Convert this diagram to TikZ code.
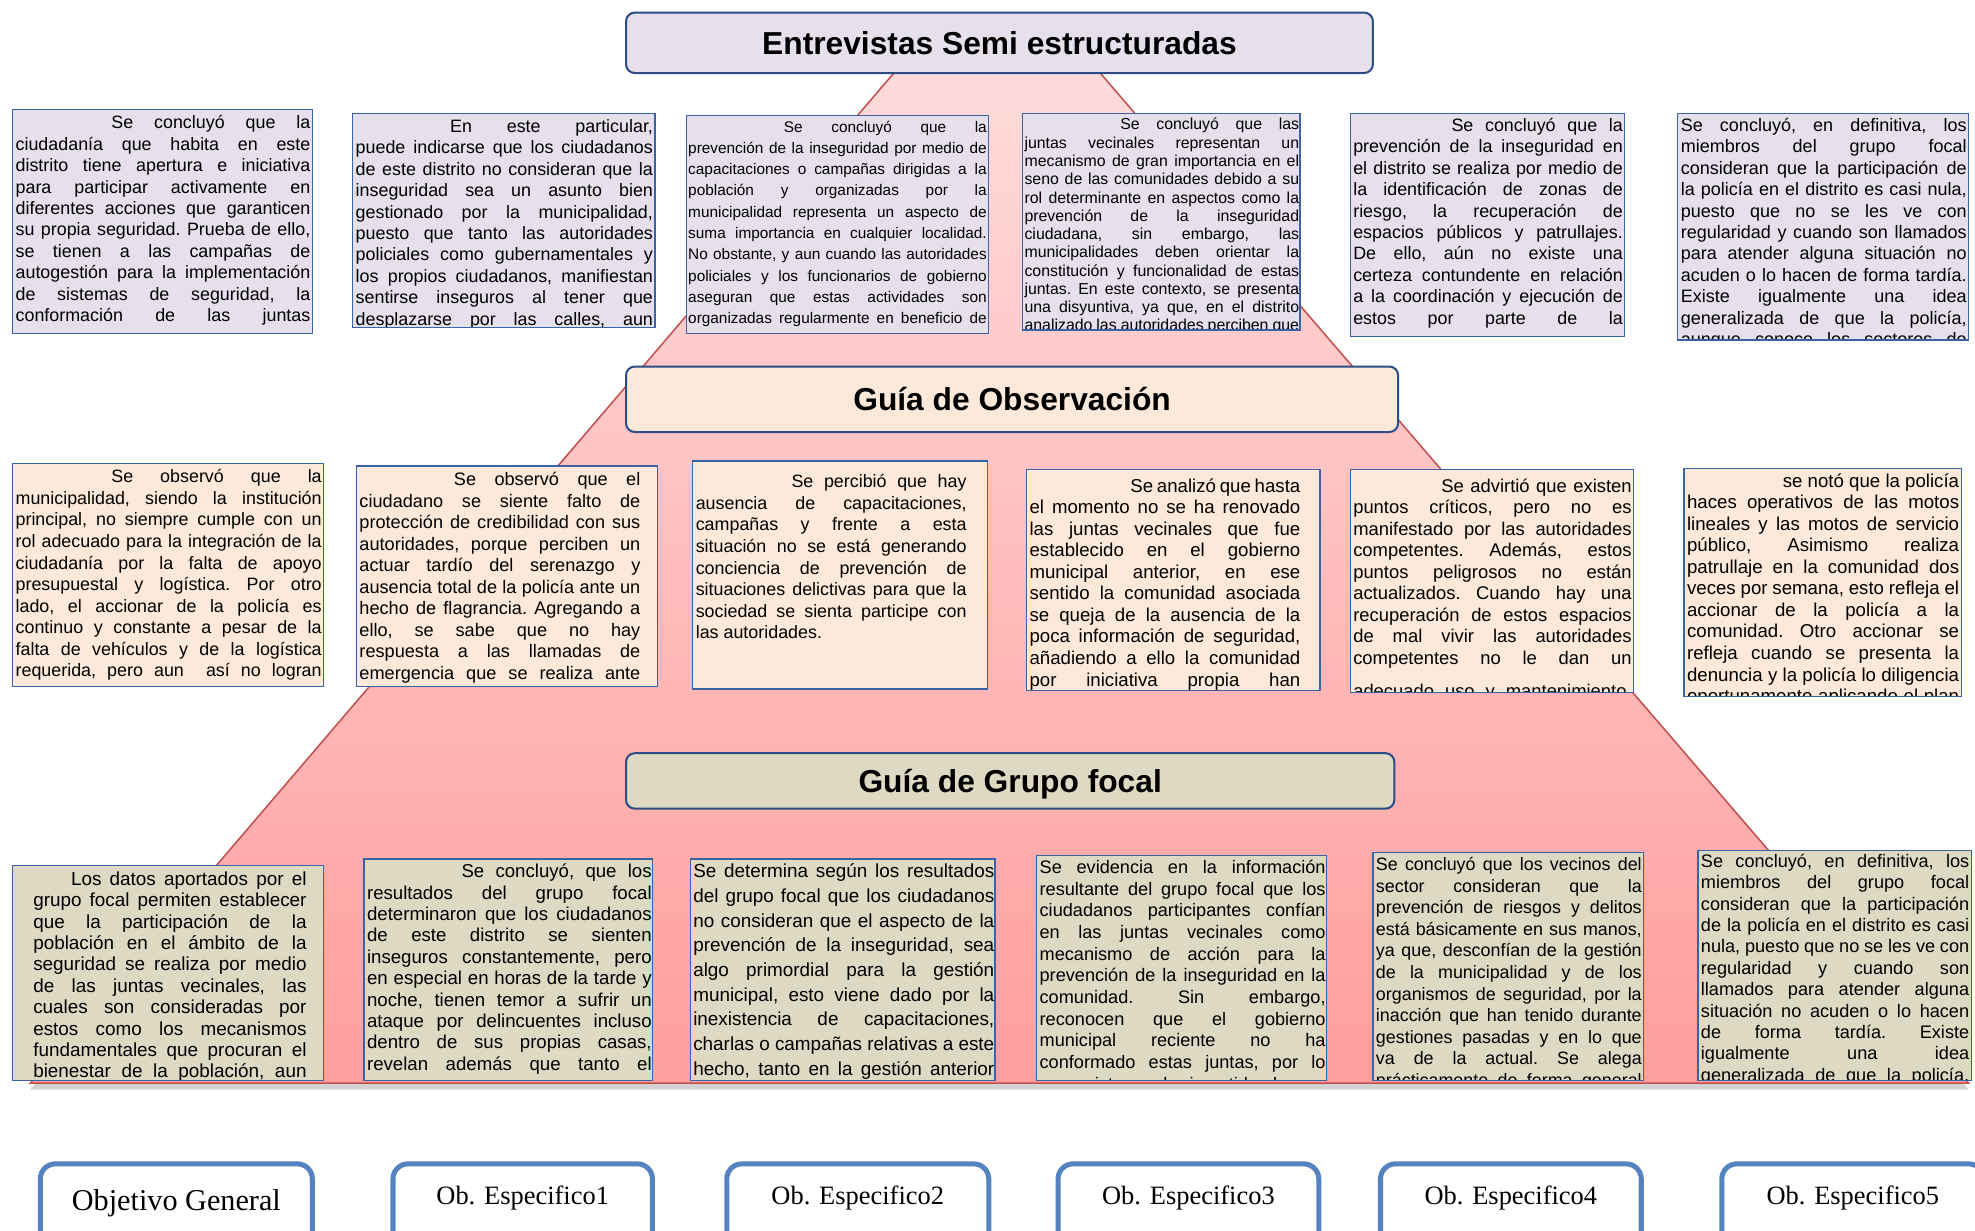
\documentclass[tikz,border=0pt]{standalone}
\usepackage{fontspec}
\setmainfont{Liberation Sans}
\newfontfamily\serifbox{Liberation Serif}
\usetikzlibrary{shadows}

\definecolor{entfill}{HTML}{E5E0EC}
\definecolor{obsfill}{HTML}{FDE9D9}
\definecolor{grufill}{HTML}{DDD9C3}
\definecolor{boxblue}{HTML}{3A62A7}
\definecolor{headblue}{HTML}{2B4C84}
\definecolor{objblue}{HTML}{5483C0}
\definecolor{pyrline}{HTML}{C0504D}
\definecolor{pyrtop}{HTML}{FFDCDC}
\definecolor{pyrbot}{HTML}{FF9E9E}

% caja de texto recortada: nombre, relleno, esquina, esquina, origen del texto, opciones, texto
\newcommand\nota[7]{%
  \fill[#2] #3 rectangle #4;
  \begin{scope}
    \clip #3 rectangle #4;
    \node[txt, #6] (#1) at #5 {\frenchspacing\tolerance=10000\hbadness=10000\hyphenpenalty=10000\parfillskip=0pt\relax #7\par};
  \end{scope}
  \draw[thinline] #3 rectangle #4;
}

\begin{document}
\begin{tikzpicture}[x=0.5pt, y=-0.5pt,
  txt/.style={anchor=north west, inner sep=0pt, align=justify},
  sz/.style 2 args={font=\fontsize{#1}{#2}\selectfont},
  thinline/.style={draw=boxblue, line width=0.5pt},
  head/.style={draw=headblue, line width=0.8pt, rounded corners=3.5pt,
    font=\bfseries\fontsize{12.6}{14}\selectfont, text height=9pt, text depth=0pt},
  objbox/.style={draw=objblue, line width=2pt, rounded corners=6pt, fill=white,
    inner sep=0pt, anchor=north}]

\fill[white] (0,0) rectangle (1568,977);
\useasboundingbox (0,0) rectangle (1568,977);

% piramide
\shade[top color=pyrtop, bottom color=pyrbot, draw=pyrline, line width=0.6pt,
  drop shadow={shadow xshift=0pt, shadow yshift=-2.5pt, opacity=0.35}]
  (24,860) -- (725,40) -- (858,40) -- (1563,860) -- cycle;

% titulos
\node[head, fill=entfill, minimum width=296.5pt, minimum height=24pt] (ent) at (793.5,34) {Entrevistas Semi estructuradas};
\node[head, fill=obsfill, minimum width=306.5pt, minimum height=26pt] (obs) at (803.5,317) {Guía de Observación};
\node[head, fill=grufill, minimum width=305pt, minimum height=22pt] (gru) at (802,620) {Guía de Grupo focal};

% entrevistas
\nota{e1}{entfill}{(10,87)}{(248,265)}{(12,91.5)}{text width=117pt, sz={7.1}{8.5}}{\hspace*{38pt}Se concluyó que la\linebreak ciudadanía que habita en este\linebreak distrito tiene apertura e iniciativa\linebreak para participar activamente en\linebreak diferentes acciones que garanticen\linebreak su propia seguridad. Prueba de ello,\linebreak se tienen a las campañas de\linebreak autogestión para la implementación\linebreak de sistemas de seguridad, la\linebreak conformación de las juntas}
\nota{e2}{entfill}{(280,90)}{(520,260)}{(282,94.5)}{text width=118pt, sz={7.1}{8.5}}{\hspace*{37.5pt}En este particular,\linebreak puede indicarse que los ciudadanos\linebreak de este distrito no consideran que la\linebreak inseguridad sea un asunto bien\linebreak gestionado por la municipalidad,\linebreak puesto que tanto las autoridades\linebreak policiales como gubernamentales y\linebreak los propios ciudadanos, manifiestan\linebreak sentirse inseguros al tener que\linebreak desplazarse por las calles, aun}
\nota{e3}{entfill}{(545,92)}{(785,265)}{(546,95.5)}{text width=118.5pt, sz={6.1}{8.45}}{\hspace*{38pt}Se concluyó que la\linebreak prevención de la inseguridad por medio de\linebreak capacitaciones o campañas dirigidas a la\linebreak población y organizadas por la\linebreak municipalidad representa un aspecto de\linebreak suma importancia en cualquier localidad.\linebreak No obstante, y aun cuando las autoridades\linebreak policiales y los funcionarios de gobierno\linebreak aseguran que estas actividades son\linebreak organizadas regularmente en beneficio de}
\nota{e4}{entfill}{(812,90)}{(1032,262)}{(813,93.5)}{text width=109pt, sz={6.3}{7.25}}{\hspace*{38pt}Se concluyó que las\linebreak juntas vecinales representan un\linebreak mecanismo de gran importancia en el\linebreak seno de las comunidades debido a su\linebreak rol determinante en aspectos como la\linebreak prevención de la inseguridad\linebreak ciudadana, sin embargo, las\linebreak municipalidades deben orientar la\linebreak constitución y funcionalidad de estas\linebreak juntas. En este contexto, se presenta\linebreak una disyuntiva, ya que, en el distrito\linebreak analizado las autoridades perciben que}
\nota{e5}{entfill}{(1072,90)}{(1290,267)}{(1074,93.5)}{text width=107pt, sz={7.1}{8.5}}{\hspace*{39pt}Se concluyó que la\linebreak prevención de la inseguridad en\linebreak el distrito se realiza por medio de\linebreak la identificación de zonas de\linebreak riesgo, la recuperación de\linebreak espacios públicos y patrullajes.\linebreak De ello, aún no existe una\linebreak certeza contundente en relación\linebreak a la coordinación y ejecución de\linebreak estos por parte de la}
\nota{e6}{entfill}{(1332,90)}{(1563,270)}{(1334,93.5)}{text width=113.5pt, sz={7.15}{8.5}}{Se concluyó, en definitiva, los\linebreak miembros del grupo focal\linebreak consideran que la participación de\linebreak la policía en el distrito es casi nula,\linebreak puesto que no se les ve con\linebreak regularidad y cuando son llamados\linebreak para atender alguna situación no\linebreak acuden o lo hacen de forma tardía.\linebreak Existe igualmente una idea\linebreak generalizada de que la policía,\linebreak aunque conoce los sectores de}

% observacion
\nota{o1}{obsfill}{(10,368)}{(257,545)}{(12,372.5)}{text width=121.5pt, sz={7.1}{8.55}}{\hspace*{38pt}Se observó que la\linebreak municipalidad, siendo la institución\linebreak principal, no siempre cumple con un\linebreak rol adecuado para la integración de la\linebreak ciudadanía por la falta de apoyo\linebreak presupuestal y logística. Por otro\linebreak lado, el accionar de la policía es\linebreak continuo y constante a pesar de la\linebreak falta de vehículos y de la logística\linebreak requerida, pero aun\ \ así no logran}
\nota{o2}{obsfill}{(283,370)}{(522,545)}{(285,374.5)}{text width=111.5pt, sz={7.2}{8.55}}{\hspace*{37.5pt}Se observó que el\linebreak ciudadano se siente falto de\linebreak protección de credibilidad con sus\linebreak autoridades, porque perciben un\linebreak actuar tardío del serenazgo y\linebreak ausencia total de la policía ante un\linebreak hecho de flagrancia. Agregando a\linebreak ello, se sabe que no hay\linebreak respuesta a las llamadas de\linebreak emergencia que se realiza ante}
\nota{o3}{obsfill}{(550,366)}{(784,547)}{(552,376.5)}{text width=107.5pt, sz={7.1}{8.55}}{\parfillskip=0pt plus 1fil\relax\hspace*{38pt}Se percibió que hay\linebreak ausencia de capacitaciones,\linebreak campañas y frente a esta\linebreak situación no se está generando\linebreak conciencia de prevención de\linebreak situaciones delictivas para que la\linebreak sociedad se sienta participe con\linebreak las autoridades.}
\nota{o4}{obsfill}{(815,373)}{(1048,548)}{(817,379.5)}{text width=107.5pt, sz={7.4}{8.55}}{\hspace*{40pt}Se analizó que hasta\linebreak el momento no se ha renovado\linebreak las juntas vecinales que fue\linebreak establecido en el gobierno\linebreak municipal anterior, en ese\linebreak sentido la comunidad asociada\linebreak se queja de la ausencia de la\linebreak poca información de seguridad,\linebreak añadiendo a ello la comunidad\linebreak por iniciativa propia han}
\nota{o5}{obsfill}{(1072,373)}{(1297,550)}{(1074,379.5)}{text width=110.5pt, sz={7.3}{8.55}}{\hspace*{35pt}Se advirtió que existen\linebreak puntos críticos, pero no es\linebreak manifestado por las autoridades\linebreak competentes. Además, estos\linebreak puntos peligrosos no están\linebreak actualizados. Cuando hay una\linebreak recuperación de estos espacios\linebreak de mal vivir las autoridades\linebreak competentes no le dan un\vspace{4.5pt}\linebreak adecuado uso y mantenimiento.}
\nota{o6}{obsfill}{(1337,372)}{(1557,553)}{(1339,375.5)}{text width=108pt, sz={7.4}{8.55}}{\hspace*{38pt}se notó que la policía\linebreak haces operativos de las motos\linebreak lineales y las motos de servicio\linebreak público, Asimismo realiza\linebreak patrullaje en la comunidad dos\linebreak veces por semana, esto refleja el\linebreak accionar de la policía a la\linebreak comunidad. Otro accionar se\linebreak refleja cuando se presenta la\linebreak denuncia y la policía lo diligencia\linebreak oportunamente aplicando el plan}

% grupo focal
\nota{g1}{grufill}{(10,687)}{(257,858)}{(26,691.5)}{text width=108.5pt, sz={7.5}{8.5}}{\hspace*{15pt}Los datos aportados por el\linebreak grupo focal permiten establecer\linebreak que la participación de la\linebreak población en el ámbito de la\linebreak seguridad se realiza por medio\linebreak de las juntas vecinales, las\linebreak cuales son consideradas por\linebreak estos como los mecanismos\linebreak fundamentales que procuran el\linebreak bienestar de la población, aun}
\nota{g2}{grufill}{(289,682)}{(518,858)}{(291,685.5)}{text width=113pt, sz={7.4}{8.5}}{\hspace*{37.5pt}Se concluyó, que los\linebreak resultados del grupo focal\linebreak determinaron que los ciudadanos\linebreak de este distrito se sienten\linebreak inseguros constantemente, pero\linebreak en especial en horas de la tarde y\linebreak noche, tienen temor a sufrir un\linebreak ataque por delincuentes incluso\linebreak dentro de sus propias casas,\linebreak revelan además que tanto el}
\nota{g3}{grufill}{(548,682)}{(790,858)}{(550,685.5)}{text width=119.5pt, sz={7.5}{9.8}}{Se determina según los resultados\linebreak del grupo focal que los ciudadanos\linebreak no consideran que el aspecto de la\linebreak prevención de la inseguridad, sea\linebreak algo primordial para la gestión\linebreak municipal, esto viene dado por la\linebreak inexistencia de capacitaciones,\linebreak charlas o campañas relativas a este\linebreak hecho, tanto en la gestión anterior}
\nota{g4}{grufill}{(823,679)}{(1053,858)}{(825,682.5)}{text width=113.5pt, sz={7.2}{8.6}}{Se evidencia en la información\linebreak resultante del grupo focal que los\linebreak ciudadanos participantes confían\linebreak en las juntas vecinales como\linebreak mecanismo de acción para la\linebreak prevención de la inseguridad en la\linebreak comunidad. Sin embargo,\linebreak reconocen que el gobierno\linebreak municipal reciente no ha\linebreak conformado estas juntas, por lo\linebreak que existe mucho incertidumbre en}
\nota{g5}{grufill}{(1090,677)}{(1305,858)}{(1092,680.5)}{text width=105.5pt, sz={7.1}{8.55}}{Se concluyó que los vecinos del\linebreak sector consideran que la\linebreak prevención de riesgos y delitos\linebreak está básicamente en sus manos,\linebreak ya que, desconfían de la gestión\linebreak de la municipalidad y de los\linebreak organismos de seguridad, por la\linebreak inacción que han tenido durante\linebreak gestiones pasadas y en lo que\linebreak va de la actual. Se alega\linebreak prácticamente de forma general}
\nota{g6}{grufill}{(1348,675)}{(1565,858)}{(1350,677.5)}{text width=106.5pt, sz={7.2}{8.5}}{Se concluyó, en definitiva, los\linebreak miembros del grupo focal\linebreak consideran que la participación\linebreak de la policía en el distrito es casi\linebreak nula, puesto que no se les ve con\linebreak regularidad y cuando son\linebreak llamados para atender alguna\linebreak situación no acuden o lo hacen\linebreak de forma tardía. Existe\linebreak igualmente una idea\linebreak generalizada de que la policía,}

% objetivos
\node[objbox, minimum width=108pt, text height=18.7pt, text depth=20.3pt, font=\serifbox\fontsize{12}{14}\selectfont] (og) at (140,922) {Objetivo General};
\node[objbox, minimum width=103pt, text height=16pt, text depth=23pt, font=\serifbox\fontsize{10.5}{12}\selectfont] (oe1) at (415,922) {Ob. Especifico1};
\node[objbox, minimum width=104pt, text height=16pt, text depth=23pt, font=\serifbox\fontsize{10.5}{12}\selectfont] (oe2) at (681,922) {Ob. Especifico2};
\node[objbox, minimum width=103.5pt, text height=16pt, text depth=23pt, font=\serifbox\fontsize{10.5}{12}\selectfont] (oe3) at (943.5,922) {Ob. Especifico3};
\node[objbox, minimum width=103.5pt, text height=16pt, text depth=23pt, font=\serifbox\fontsize{10.5}{12}\selectfont] (oe4) at (1199.5,922) {Ob. Especifico4};
\node[objbox, minimum width=104pt, text height=16pt, text depth=23pt, font=\serifbox\fontsize{10.5}{12}\selectfont] (oe5) at (1471,922) {Ob. Especifico5};

\end{tikzpicture}
\end{document}
